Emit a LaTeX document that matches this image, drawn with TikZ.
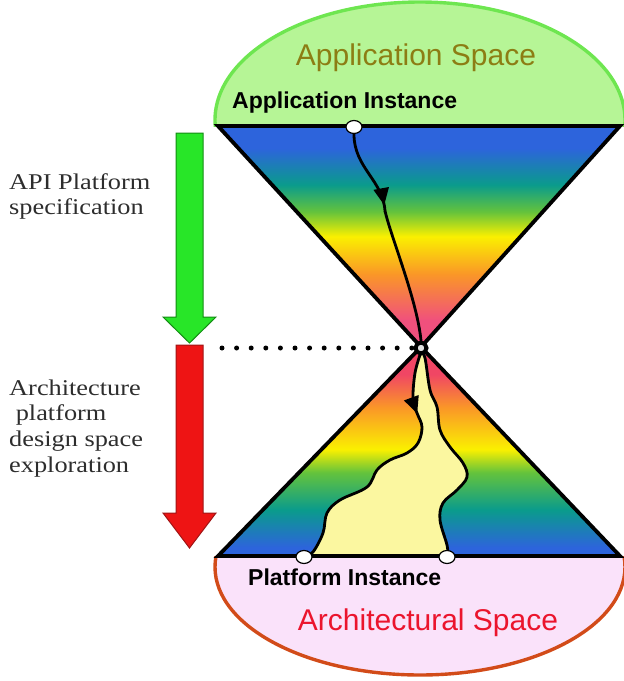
\documentclass[tikz,border=0pt]{standalone}
\usepackage{fontspec}
\setmainfont{Liberation Serif}
\newfontfamily\arialfont{Liberation Sans}
\usetikzlibrary{arrows.meta,decorations.markings,shapes.geometric}

\definecolor{cpink}{RGB}{240,80,125}
\definecolor{cred}{RGB}{240,70,100}
\definecolor{corange}{RGB}{250,150,40}
\definecolor{cyellow}{RGB}{250,240,0}
\definecolor{cgreen}{RGB}{100,195,60}
\definecolor{cteal}{RGB}{10,155,140}
\definecolor{cblue}{RGB}{45,100,220}
\definecolor{appfill}{RGB}{182,245,150}
\definecolor{appline}{RGB}{110,230,80}
\definecolor{archfill}{RGB}{250,226,250}
\definecolor{archline}{RGB}{210,75,25}
\definecolor{appspace}{RGB}{140,125,20}
\definecolor{archspace}{RGB}{235,20,45}
\definecolor{regionfill}{RGB}{251,247,160}
\definecolor{arrowgreen}{RGB}{40,230,40}
\definecolor{arrowgreenline}{RGB}{20,140,20}
\definecolor{arrowred}{RGB}{238,20,20}
\definecolor{arrowredline}{RGB}{160,20,20}
\definecolor{sidetext}{RGB}{45,45,45}

% upper cone: pink at the apex, blue at the wide end
\pgfdeclareverticalshading{upcone}{100bp}{%
  color(0bp)=(cpink); color(25bp)=(cpink); color(31bp)=(cpink);
  color(41.4bp)=(corange); color(50bp)=(cyellow); color(55.6bp)=(cgreen);
  color(61.7bp)=(cteal); color(70bp)=(cblue); color(75bp)=(cblue); color(100bp)=(cblue)}
% lower cone: blue at the wide end, red at the apex
\pgfdeclareverticalshading{downcone}{100bp}{%
  color(0bp)=(cblue); color(25bp)=(cblue); color(27bp)=(cblue);
  color(36bp)=(cteal); color(45bp)=(cgreen); color(50.5bp)=(cyellow);
  color(60.6bp)=(corange); color(68.5bp)=(cred); color(75bp)=(cred); color(100bp)=(cred)}

\tikzset{
  cone/.style={line width=3.8pt, line join=miter},
  instance/.style={ellipse, draw=black, line width=1.2pt, fill=white, minimum width=16pt, minimum height=13pt, inner sep=0pt},
  apexring/.style={circle, draw=black, line width=4pt, fill=black!12, minimum size=11pt, inner sep=0pt},
  flowline/.style={line width=2.8pt, line cap=round},
  midarrow/.style={postaction={decorate}, decoration={markings,
      mark=at position #1 with {\arrow{Triangle[length=17pt,width=15pt]}}}},
  spacetitle/.style={font=\arialfont\fontsize{30}{34}\selectfont, inner sep=0pt},
  instlabel/.style={font=\arialfont\bfseries\fontsize{23}{26}\selectfont, inner sep=0pt, anchor=base west},
  sidelabel/.style={font=\fontsize{22.5}{26}\selectfont, text=sidetext, inner sep=0pt, anchor=base west, xscale=1.17},
  dotline/.style={line width=5pt, line cap=round, dash pattern=on 0pt off 14.6pt},
  bigarrow/.style={line width=1pt, line join=miter},
}

\begin{document}
\begin{tikzpicture}[x=1pt, y=-1pt]
\useasboundingbox (0,0) rectangle (624,681);

% application space (upper cap)
\begin{scope}
  \clip (190,-5) rectangle (640,126);
  \draw[line width=3.4pt, draw=appline, fill=appfill] (420,120) ellipse [x radius=205pt, y radius=118pt];
\end{scope}
% architectural space (lower cap)
\begin{scope}
  \clip (190,556) rectangle (640,690);
  \draw[line width=3.4pt, draw=archline, fill=archfill] (420,567) ellipse [x radius=205pt, y radius=108pt];
\end{scope}

% cones
\coordinate (tl) at (218,126);
\coordinate (tr) at (620,126);
\coordinate (bl) at (218,556);
\coordinate (br) at (620,556);
\coordinate (apexpt) at (421,347);
\shade[shading=upcone] (tl) -- (tr) -- (apexpt) -- cycle;
\shade[shading=downcone] (bl) -- (br) -- (apexpt) -- cycle;

% explored region of the platform design space
\fill[regionfill]
  plot[smooth, tension=0.6] coordinates {(421,352) (415,373) (413,400) (417,413) (422,427) (418,443)
     (407,453) (390,460) (377,470) (367,487) (340,500) (327,513) (323,533) (313,552) (305,556)}
  -- (448,556)
  -- plot[smooth, tension=0.6] coordinates {(448,556) (447,545) (440,520) (443,503) (457,490) (467,477)
     (463,463) (450,447) (440,430) (437,407) (430,390) (425,358) (421,352)}
  -- cycle;
\draw[flowline, midarrow=0.24]
  plot[smooth, tension=0.6] coordinates {(421,352) (415,373) (413,400) (417,413) (422,427) (418,443)
     (407,453) (390,460) (377,470) (367,487) (340,500) (327,513) (323,533) (313,552) (305,556)};
\draw[flowline]
  plot[smooth, tension=0.6] coordinates {(448,556) (447,545) (440,520) (443,503) (457,490) (467,477)
     (463,463) (450,447) (440,430) (437,407) (430,390) (425,358) (421,352)};

% cone outlines
\draw[cone] (tl) -- (tr) -- (apexpt) -- cycle;
\draw[cone] (bl) -- (br) -- (apexpt) -- cycle;

% instances and the refinement path
\node[apexring] (apex) at (421,348) {};
\node[instance] (ai) at (354,127) {};
\node[instance] (pl) at (304,557) {};
\node[instance] (pr) at (447,557) {};
\coordinate (bend) at (385,211);
\draw[flowline, midarrow=0.93] (ai.south) .. controls (354,168) and (383,180) .. (bend);
\draw[flowline] (bend) .. controls (392,240) and (417,300) .. (apex.north);

% dotted level line
\coordinate (dotstart) at (222,348);
\draw[dotline] (dotstart) -- (apex.west);

% labels
\node[spacetitle, text=appspace, anchor=base] (appsp) at (416,65) {Application Space};
\node[instlabel] (appinst) at (232,108) {Application Instance};
\node[instlabel] (platinst) at (248,585) {Platform Instance};
\node[spacetitle, text=archspace, anchor=base] (archsp) at (428,630) {Architectural Space};

% phase arrows
\draw[bigarrow, draw=arrowgreenline, fill=arrowgreen]
  (176,133) -- (203,133) -- (203,317) -- (216,317) -- (189.5,343) -- (163,317) -- (176,317) -- cycle;
\draw[bigarrow, draw=arrowredline, fill=arrowred]
  (176,345) -- (203,345) -- (203,513) -- (216,513) -- (189.5,548) -- (163,513) -- (176,513) -- cycle;

\node[sidelabel] (apispec1) at (9,189) {API Platform};
\node[sidelabel] (apispec2) at (9,214) {specification};
\node[sidelabel] (dse1) at (9,395) {Architecture};
\node[sidelabel] (dse2) at (9,420) {\ platform};
\node[sidelabel] (dse3) at (9,446) {design space};
\node[sidelabel] (dse4) at (9,472) {exploration};
\end{tikzpicture}
\end{document}
